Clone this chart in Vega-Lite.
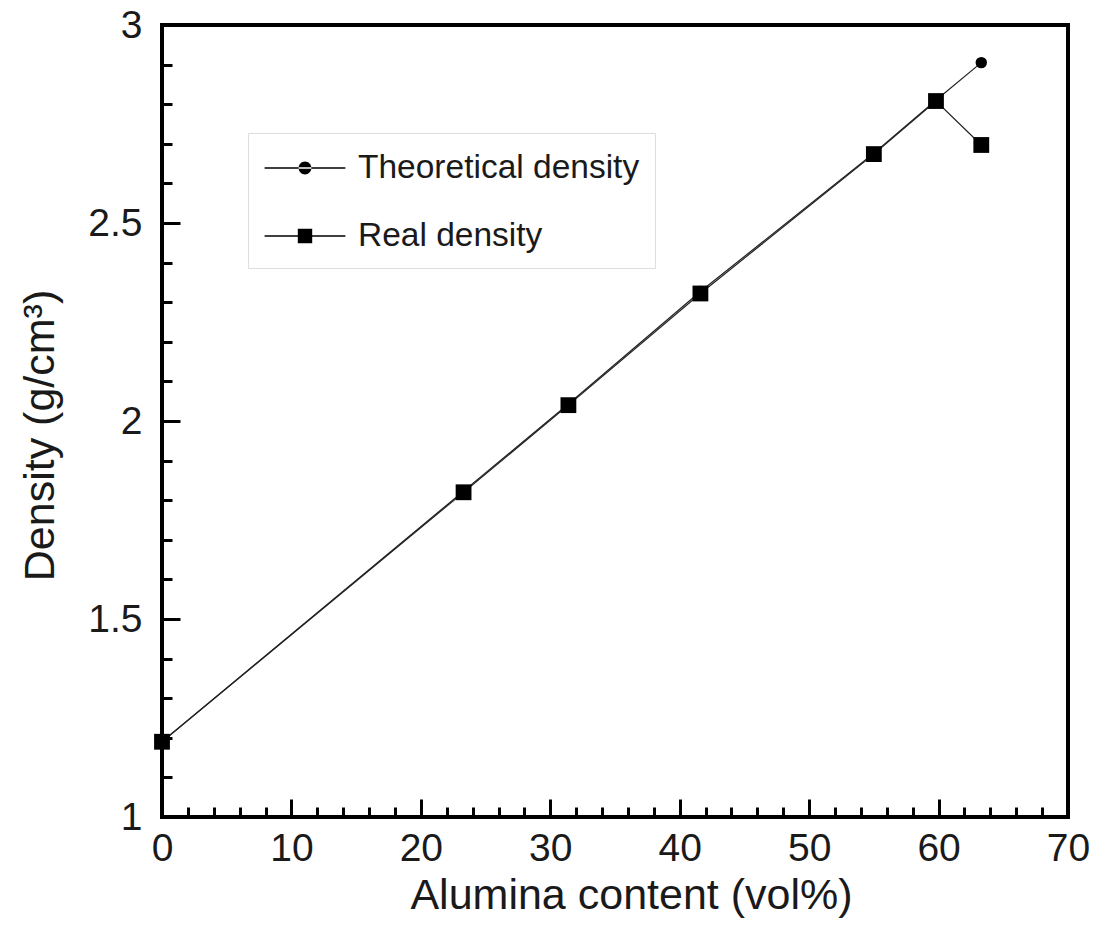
{
  "$schema": "https://vega.github.io/schema/vega-lite/v6.json",
  "width": 906,
  "height": 792,
  "autosize": {"type": "none"},
  "padding": {"left": 162, "top": 25, "right": 28, "bottom": 112},
  "background": "white",
  "config": {
    "font": "Liberation Sans",
    "view": {"stroke": "black", "strokeWidth": 4},
    "axis": {"grid": false, "domain": false, "tickColor": "black", "tickWidth": 3, "labelFont": "Liberation Sans", "titleFont": "Liberation Sans", "labelColor": "#1a1a1a", "titleColor": "#1a1a1a", "titleFontWeight": "normal"}
  },
  "data": {
    "values": [
      {"x": 0, "y": 1.19, "series": "Theoretical density"},
      {"x": 23.3, "y": 1.823, "series": "Theoretical density"},
      {"x": 31.4, "y": 2.043, "series": "Theoretical density"},
      {"x": 41.6, "y": 2.327, "series": "Theoretical density"},
      {"x": 55.0, "y": 2.676, "series": "Theoretical density"},
      {"x": 59.8, "y": 2.81, "series": "Theoretical density"},
      {"x": 63.3, "y": 2.905, "series": "Theoretical density"},
      {"x": 0, "y": 1.19, "series": "Real density"},
      {"x": 23.3, "y": 1.82, "series": "Real density"},
      {"x": 31.4, "y": 2.04, "series": "Real density"},
      {"x": 41.6, "y": 2.322, "series": "Real density"},
      {"x": 55.0, "y": 2.674, "series": "Real density"},
      {"x": 59.8, "y": 2.808, "series": "Real density"},
      {"x": 63.3, "y": 2.697, "series": "Real density"}
    ]
  },
  "resolve": {"axis": {"x": "independent", "y": "independent"}},
  "layer": [
    {
      "mark": {"type": "line", "color": "#222", "strokeWidth": 1.2},
      "encoding": {
        "x": {"field": "x", "type": "quantitative", "scale": {"domain": [0, 70], "nice": false, "zero": false},
          "axis": {"orient": "bottom", "values": [2,4,6,8,12,14,16,18,22,24,26,28,32,34,36,38,42,44,46,48,52,54,56,58,62,64,66,68], "tickSize": -10, "labels": false, "title": null}},
        "y": {"field": "y", "type": "quantitative", "scale": {"domain": [1, 3], "nice": false, "zero": false},
          "axis": {"orient": "left", "values": [1.1,1.2,1.3,1.4,1.6,1.7,1.8,1.9,2.1,2.2,2.3,2.4,2.6,2.7,2.8,2.9], "tickSize": -10, "labels": false, "title": null}},
        "detail": {"field": "series"}
      }
    },
    {
      "transform": [{"filter": "datum.series === 'Theoretical density'"}],
      "mark": {"type": "point", "shape": "circle", "filled": true, "color": "black", "opacity": 1, "size": 130},
      "encoding": {
        "x": {"field": "x", "type": "quantitative",
          "axis": {"orient": "bottom", "values": [0,10,20,30,40,50,60,70], "format": "d", "tickSize": -18, "labelFontSize": 39, "labelPadding": 30, "labelFlush": false,
            "title": "Alumina content (vol%)", "titleFontSize": 43, "titleX": 469, "titleY": 91, "titleBaseline": "alphabetic", "titleAlign": "center"}},
        "y": {"field": "y", "type": "quantitative",
          "axis": {"orient": "left", "values": [1,1.5,2,2.5,3], "format": "~g", "tickSize": -18, "labelFontSize": 39, "labelPadding": 38, "labelFlush": false,
            "title": "Density (g/cm³)", "titleFontSize": 43, "titleX": -109, "titleY": 410, "titleBaseline": "alphabetic", "titleAlign": "center", "titleAngle": -90}}
      }
    },
    {
      "transform": [{"filter": "datum.series === 'Real density'"}],
      "mark": {"type": "point", "shape": "square", "filled": true, "color": "black", "opacity": 1, "size": 250},
      "encoding": {
        "x": {"field": "x", "type": "quantitative", "axis": null},
        "y": {"field": "y", "type": "quantitative", "axis": null}
      }
    },
    {
      "mark": {"type": "point", "filled": true, "color": "black", "opacity": 0},
      "encoding": {
        "x": {"field": "x", "type": "quantitative", "axis": null},
        "y": {"field": "y", "type": "quantitative", "axis": null},
        "shape": {"field": "series", "type": "nominal",
          "scale": {"domain": ["Theoretical density", "Real density"], "range": ["M-2.02,-0.04L2.02,-0.04L2.02,0.04L-2.02,0.04Z M-0.32,0A0.32,0.32,0,1,0,0.32,0A0.32,0.32,0,1,0,-0.32,0Z", "M-2.02,-0.04L2.02,-0.04L2.02,0.04L-2.02,0.04Z M-0.36,-0.36L0.36,-0.36L0.36,0.36L-0.36,0.36Z"]},
          "legend": {"title": null, "orient": "none", "legendX": 86, "legendY": 108, "padding": 15, "strokeColor": "#dddddd", "fillColor": "white",
            "symbolSize": 1600, "symbolStrokeWidth": 0, "symbolFillColor": "black", "symbolStrokeColor": "black", "symbolOpacity": 1, "symbolOffset": 22,
            "labelFont": "Liberation Sans", "labelFontSize": 33.5, "labelColor": "#1a1a1a", "labelOffset": 33, "rowPadding": 31, "labelLimit": 500,
            "encode": {"symbols": {"fill": {"value": "#111111"}, "opacity": {"value": 1}, "size": {"value": 1600}}}}}
      }
    }
  ]
}
